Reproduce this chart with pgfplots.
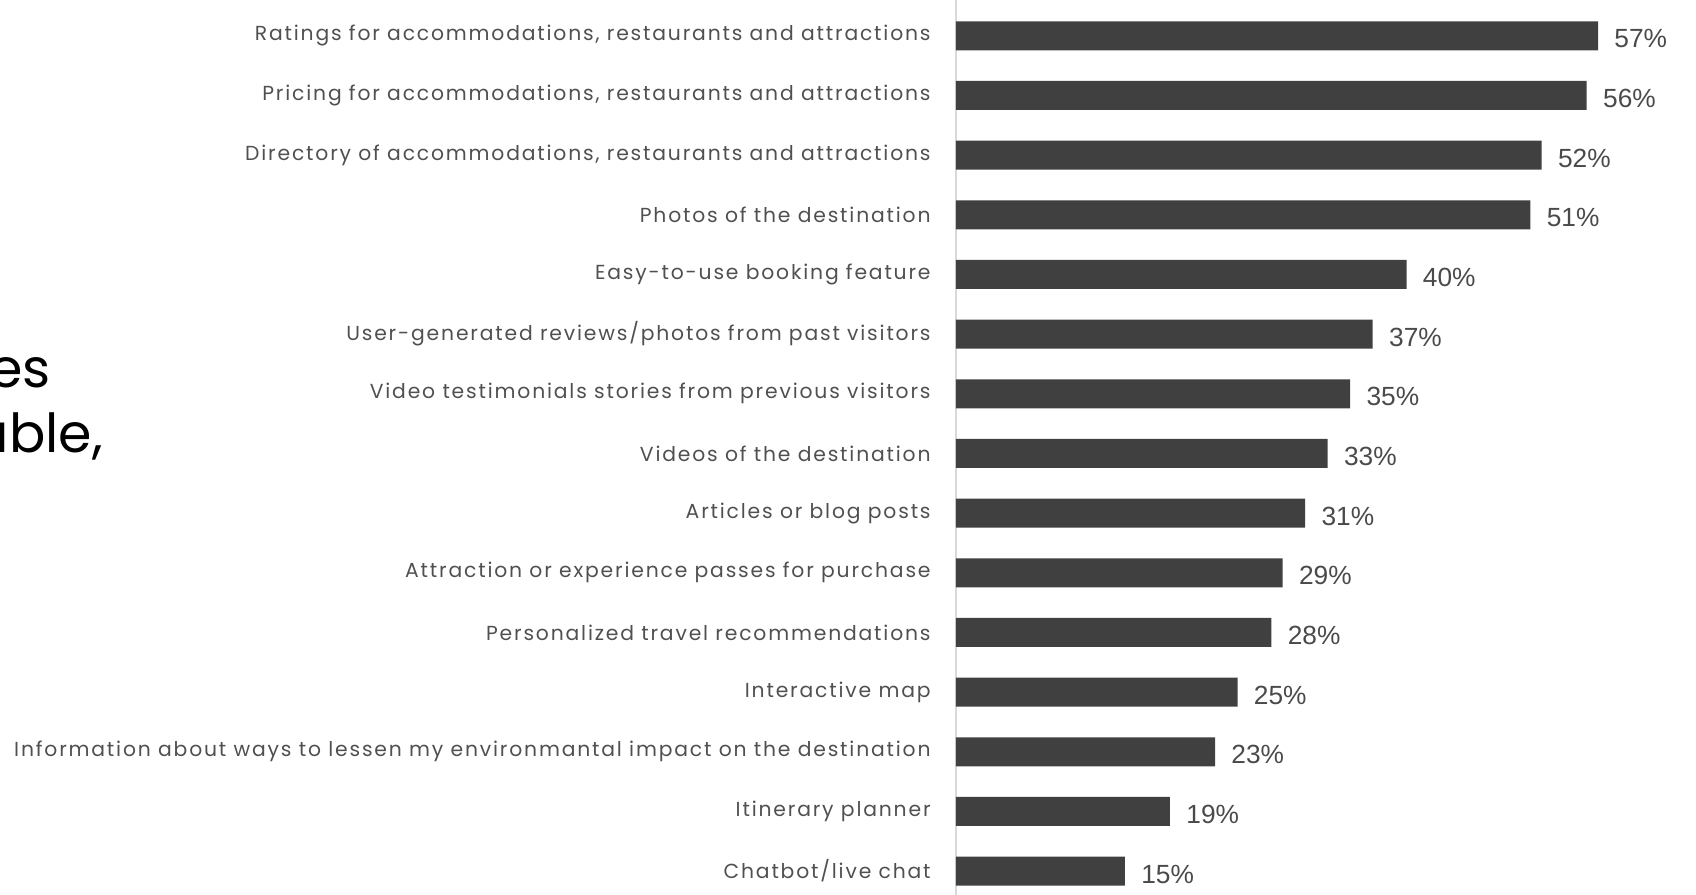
\documentclass[border=0pt]{standalone}
\usepackage{pgfplots}
\pgfplotsset{compat=1.18}
\usepackage{fontspec}
\setmainfont{Poppins}
\newfontfamily\labfont[LetterSpace=9]{Poppins}
\newfontfamily\valfont{Liberation Sans}
\definecolor{barc}{HTML}{404040}
\definecolor{txt}{HTML}{4A4A4A}
\definecolor{labc}{HTML}{505050}
\begin{document}
\begin{tikzpicture}
\begin{axis}[
  at={(0,0)}, anchor=south west,
  scale only axis, width=370bp, height=447.5bp,
  xbar, bar width=14.5bp, bar shift=0pt,
  xmin=0, xmax=65.7,
  ymin=-0.6, ymax=14.4, y dir=reverse,
  axis x line=none, axis y line*=left,
  y axis line style={-, draw=gray!30, line width=0.7bp},
  ytick={0,...,14}, major tick length=0pt,
  yticklabels={
    {Ratings for accommodations, restaurants and attractions},
    {Pricing for accommodations, restaurants and attractions},
    {Directory of accommodations, restaurants and attractions},
    {Photos of the destination},
    {Easy-to-use booking feature},
    {User-generated reviews/photos from past visitors},
    {Video testimonials stories from previous visitors},
    {Videos of the destination},
    {Articles or blog posts},
    {Attraction or experience passes for purchase},
    {Personalized travel recommendations},
    {Interactive map},
    {Information about ways to lessen my environmantal impact on the destination},
    {Itinerary planner},
    {Chatbot/live chat}},
  yticklabel style={font=\labfont\fontsize{10.2}{12}\selectfont, text=labc, anchor=east, inner sep=0pt, xshift=-12.5bp},
  clip=false,
  point meta=x,
  /pgf/number format/assume math mode=true,
  nodes near coords={\pgfmathprintnumber{\pgfplotspointmeta}\%},
  nodes near coords style={font=\valfont\fontsize{13.2}{15}\selectfont, text=txt, anchor=west, inner sep=0pt, xshift=8bp, yshift=-1.5bp},
]
\addplot[fill=barc, draw=none] coordinates {
(57,0) (56,1) (52,2) (51,3) (40,4) (37,5) (35,6) (33,7) (31,8) (29,9) (28,10) (25,11) (23,12) (19,13) (15,14)};
\end{axis}
\node[anchor=base east, font=\fontsize{27}{30}\selectfont, text=black] at (-449bp,253.5bp) {es};
\node[anchor=base east, font=\fontsize{27}{30}\selectfont, text=black] at (-423bp,221bp) {able,};
\pgfresetboundingbox
\useasboundingbox (-478bp,0) rectangle (370bp,447.5bp);
\end{tikzpicture}
\end{document}
